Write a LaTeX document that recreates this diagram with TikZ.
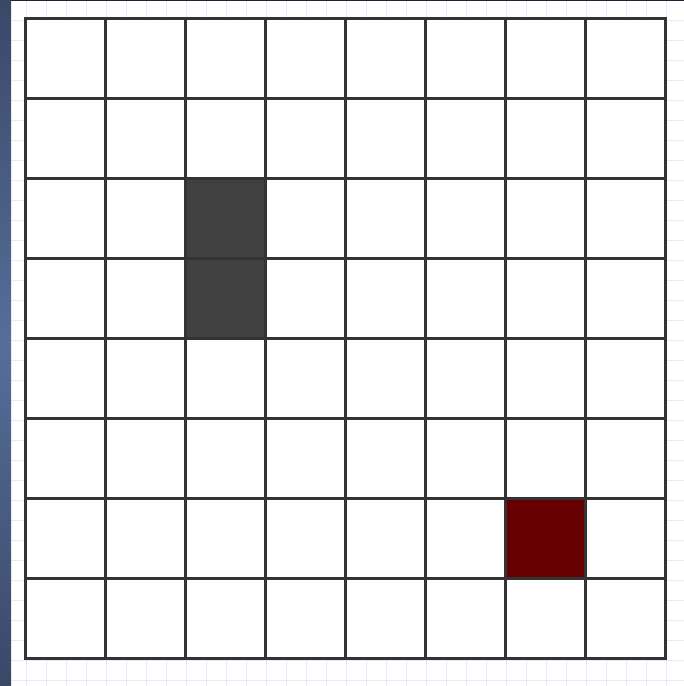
\documentclass[tikz,border=0pt]{standalone}
\definecolor{gridline}{HTML}{333333}
\definecolor{faint}{HTML}{E9E8FA}
\definecolor{darkcell}{HTML}{404040}
\definecolor{redcell}{HTML}{660000}
\definecolor{stripdark}{HTML}{3A4868}
\definecolor{striplight}{HTML}{566E98}
\definecolor{topbar}{HTML}{1E2438}
\tikzset{
  cellline/.style={draw=gridline, line width=3pt},
  faintline/.style={draw=faint, line width=1pt},
}
\begin{document}
\begin{tikzpicture}[x=1pt,y=-1pt]
\useasboundingbox (0,0) rectangle (684,686);
\fill[white] (0,0) rectangle (684,686);
% faint background grid
\foreach \x in {26,46,...,686} \draw[faintline] (\x,0) -- (\x,686);
\foreach \y in {20,40,...,686} \draw[faintline] (11,\y) -- (684,\y);
% left strip
\shade[top color=stripdark, bottom color=stripdark, middle color=striplight] (0,0) rectangle (11,686);
\fill[topbar] (11,0) rectangle (684,1.2);
% board background
\fill[white] (25,18) rectangle (665,658);
% filled cells
\fill[darkcell] (185,178) rectangle (265,338);
\fill[redcell] (505,498) rectangle (585,578);
% grid
\foreach \k in {0,...,8} {
  \draw[cellline] (25+80*\k,18) -- (25+80*\k,658);
  \draw[cellline] (25,18+80*\k) -- (665,18+80*\k);
}
\draw[cellline, line cap=rect] (25,18) rectangle (665,658);
\end{tikzpicture}
\end{document}
